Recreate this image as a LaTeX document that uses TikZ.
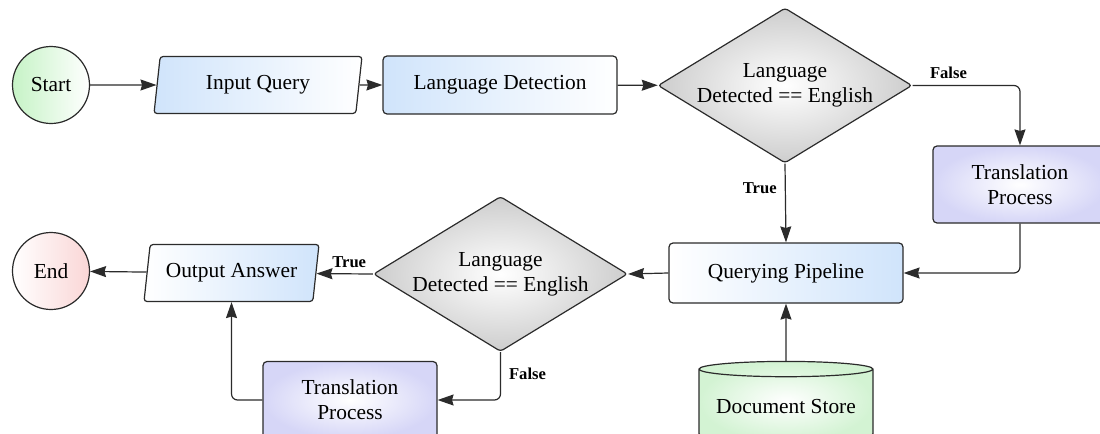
\documentclass[tikz,border=0pt]{standalone}
\usepackage{fontspec}
\setmainfont{Liberation Serif}
\usepackage{tikz}
\usepackage{xcolor}
\usetikzlibrary{arrows.meta,positioning,shapes.geometric}
\definecolor{ink}{HTML}{2B2B2B}
\definecolor{mintbg}{HTML}{C6F3C6}
\definecolor{rosebg}{HTML}{FAD6D6}
\definecolor{skybg}{HTML}{D0E4FB}
\definecolor{greybg}{HTML}{CDCDCD}
\definecolor{lilacbg}{HTML}{D6D6F7}
\definecolor{storebg}{HTML}{D3F3D3}
\newcommand{\boxfont}{\fontsize{10.7}{12.5}\selectfont}
\tikzset{
  termnode/.style={circle,draw=ink,line width=0.6pt,minimum size=38.5pt,
                   inner sep=0pt,font=\boxfont},
  startnode/.style={termnode,left color=mintbg,right color=white},
  endnode/.style={termnode,left color=white,right color=rosebg},
  iobox/.style={trapezium,trapezium left angle=77,trapezium right angle=103,
                trapezium stretches body,draw=ink,line width=0.6pt,
                rounded corners=1.5pt,minimum height=28.5pt,inner sep=2pt,
                font=\boxfont},
  procbox/.style={rectangle,draw=ink,line width=0.6pt,rounded corners=2pt,
                  minimum width=117pt,minimum height=29pt,align=center,
                  font=\boxfont},
  transbox/.style={procbox,minimum width=87pt,minimum height=38.5pt,
                   inner color=white,outer color=lilacbg},
  choice/.style={diamond,aspect=1.64,draw=ink,line width=0.6pt,
                 rounded corners=1.5pt,minimum width=127pt,
                 minimum height=77.5pt,inner sep=0pt,align=center,
                 inner color=white,outer color=greybg,font=\boxfont},
  storenode/.style={cylinder,shape border rotate=90,aspect=0.1,draw=ink,
                    line width=0.6pt,minimum width=87pt,minimum height=40pt,
                    inner color=white,outer color=storebg,font=\boxfont},
  flow/.style={-{Stealth[length=8pt,width=5.5pt,inset=0.8pt]},
               line width=0.6pt,draw=ink,rounded corners=3pt},
  flowlbl/.style={font=\fontsize{8.3}{10}\selectfont\bfseries,inner sep=1pt}
}
\begin{document}
\begin{tikzpicture}[x=0.5pt,y=-0.5pt]
    \path[use as bounding box] (0,0) rectangle (1100,434);
    % top row
    \node[startnode] (start) at (51,85) {Start};
    \node[iobox,minimum width=104pt,left color=skybg,right color=white]
      (inq) at (258,85) {Input Query};
    \node[procbox,left color=skybg,right color=white] (ld) at (500,85)
      {Language Detection};
    \node[choice] (dec1) at (785,85.5) {Language\\Detected == English};
    \node[transbox] (trans1) at (1020,184.5) {Translation\\Process};
    % bottom row
    \node[procbox,minimum height=30pt,left color=white,right color=skybg]
      (qp) at (786,273) {Querying Pipeline};
    \node[storenode] (store) at (786,407) {Document Store};
    \node[choice] (dec2) at (500.5,274) {Language\\Detected == English};
    \node[iobox,minimum width=87.5pt,left color=white,right color=skybg]
      (out) at (231.5,273) {Output Answer};
    \node[endnode] (endn) at (51,271) {End};
    \node[transbox] (trans2) at (350,400) {Translation\\Process};

    \draw[flow] (start) -- (inq);
    \draw[flow] (inq) -- (ld);
    \draw[flow] (ld) -- (dec1);
    \draw[flow] (dec1.east) -| node[flowlbl,pos=0.167,above=2pt] {False}
      (trans1.north);
    \draw[flow] (dec1.south) -- node[flowlbl,pos=0.31,left=3pt] {True}
      (qp.north);
    \draw[flow] (trans1.south) |- (qp.east);
    \draw[flow] (store.north) -- (qp.south);
    \draw[flow] (qp.west) -- (dec2.east);
    \draw[flow] (dec2.west) -- node[flowlbl,pos=0.42,above=2pt] {True}
      (out);
    \draw[flow] (dec2.south) |- node[flowlbl,pos=0.23,right=3pt] {False}
      (trans2.east);
    \draw[flow] (trans2.west) -| (out.south);
    \draw[flow] (out) -- (endn);
  \end{tikzpicture}
\end{document}
